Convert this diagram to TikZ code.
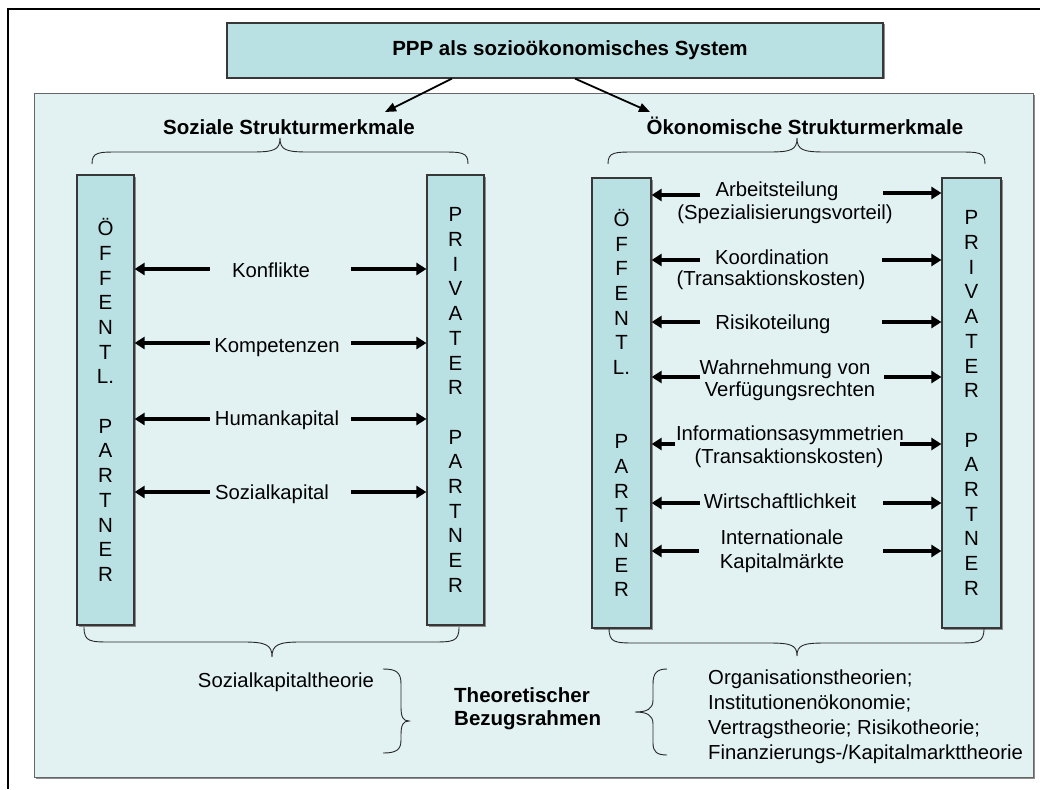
\documentclass[tikz,border=0pt]{standalone}
\usepackage{fontspec}
\setmainfont{Liberation Sans}
\usetikzlibrary{arrows.meta,shadows}
\definecolor{panelc}{RGB}{226,242,242}
\definecolor{barc}{RGB}{185,224,227}
\definecolor{edgec}{RGB}{55,55,55}
\begin{document}
\begin{tikzpicture}[x=1pt,y=-1pt,
  lbl/.style={font=\fontsize{20.3}{24}\selectfont, anchor=base, inner sep=0pt},
  hd/.style={font=\bfseries\fontsize{20.5}{24}\selectfont, anchor=base, inner sep=0pt},
  shd/.style={drop shadow={shadow xshift=1.5pt, shadow yshift=-1.5pt, fill=black!45, opacity=1}},
  bar/.style={draw=edgec, line width=1.2pt, fill=barc, align=center, inner sep=0pt,
    font=\fontsize{20.5}{24.7}\selectfont, shd},
  bigarr/.style={line width=4pt, -{Triangle[length=10pt,width=12pt]}},
  thinarr/.style={line width=1.8pt, -{Triangle[length=11pt,width=9pt]}},
  brace/.style={line width=0.9pt, black!85}
]
\useasboundingbox (0,0) rectangle (1040,789);
\fill[white] (0,0) rectangle (1040,789);
\draw[line width=2pt] (8,789) -- (8,9) -- (1040,9);

% panel
\node[draw=gray!80!black, line width=1pt, fill=panelc, minimum width=999pt, minimum height=683pt,
  inner sep=0pt, shd] (panel) at (533.5,435.5) {};

% title
\node[draw=edgec, line width=1.2pt, fill=barc, minimum width=656pt, minimum height=55pt, inner sep=0pt,
  font=\bfseries\fontsize{20.5}{24}\selectfont, shd] (title) at (555,50.5)
  {\hspace{30pt}PPP als sozioökonomisches System};

% headings
\node[hd] (soz) at (289,135) {Soziale Strukturmerkmale};
\node[hd] (oek) at (805,135) {Ökonomische Strukturmerkmale};
\coordinate (aS) at (385,112);
\coordinate (aO) at (650,112);
\draw[thinarr] ([xshift=-103pt]title.south) -- (aS);
\draw[thinarr] ([xshift=20pt]title.south) -- (aO);

% top braces
\draw[brace] (92,164) .. controls (92,152) and (98,152) .. (120,152) -- (252,152)
  .. controls (274,152) and (280,150) .. (280,138) .. controls (280,150) and (286,152) .. (308,152)
  -- (440,152) .. controls (462,152) and (468,152) .. (468,164);
\draw[brace] (608,164) .. controls (608,152) and (614,152) .. (636,152) -- (769,152)
  .. controls (791,152) and (797,150) .. (797,138) .. controls (797,150) and (803,152) .. (825,152)
  -- (957,152) .. controls (979,152) and (985,152) .. (985,164);

% bars
\node[bar, minimum width=57pt, minimum height=450pt] (oeL) at (105.5,400)
  {Ö\\F\\F\\E\\N\\T\\L.\\[24.7pt]P\\A\\R\\T\\N\\E\\R};
\node[bar, minimum width=57pt, minimum height=450pt] (prL) at (455.5,400)
  {P\\R\\I\\V\\A\\T\\E\\R\\[24.7pt]P\\A\\R\\T\\N\\E\\R};
\node[bar, minimum width=59pt, minimum height=450pt] (oeR) at (621.5,403)
  {Ö\\F\\F\\E\\N\\T\\L.\\[49.4pt]P\\A\\R\\T\\N\\E\\R};
\node[bar, minimum width=59pt, minimum height=450pt] (prR) at (971.5,403)
  {P\\R\\I\\V\\A\\T\\E\\R\\[24.7pt]P\\A\\R\\T\\N\\E\\R};

% left labels and arrows
\node[lbl] (konf) at (271,277) {Konflikte};
\node[lbl] (komp) at (277,352) {Kompetenzen};
\node[lbl] (hum) at (277,425) {Humankapital};
\node[lbl] (soka) at (272,499) {Sozialkapital};
\foreach \n/\y in {1/269,2/343,3/419,4/492}{
  \coordinate (la\n) at (210,\y);
  \coordinate (ra\n) at (351,\y);
  \draw[bigarr] (la\n) -- (la\n -| oeL.east);
  \draw[bigarr] (ra\n) -- (ra\n -| prL.west);
}

% right labels
\node[lbl] (arb1) at (777,196) {Arbeitsteilung};
\node[lbl] (arb2) at (785,219) {(Spezialisierungsvorteil)};
\node[lbl] (koo1) at (772,264) {Koordination};
\node[lbl] (koo2) at (771,285) {(Transaktionskosten)};
\node[lbl] (ris) at (773,329) {Risikoteilung};
\node[lbl] (wah1) at (785,374) {Wahrnehmung von};
\node[lbl] (wah2) at (790,396) {Verfügungsrechten};
\node[lbl] (inf1) at (790,440) {Informationsasymmetrien};
\node[lbl] (inf2) at (789,463) {(Transaktionskosten)};
\node[lbl] (wir) at (780,508) {Wirtschaftlichkeit};
\node[lbl] (int1) at (782,544) {Internationale};
\node[lbl] (int2) at (782,568) {Kapitalmärkte};
\foreach \n/\xl/\yl/\xr/\yr in {1/700/195/883/193, 2/700/260/882/260, 3/700/322/882/322,
  4/700/377/884/377, 5/675/444/900/444, 6/700/503/883/503, 7/699/551/883/551}{
  \coordinate (lb\n) at (\xl,\yl);
  \coordinate (rb\n) at (\xr,\yr);
  \draw[bigarr] (lb\n) -- (lb\n -| oeR.east);
  \draw[bigarr] (rb\n) -- (rb\n -| prR.west);
}

% bottom braces
\draw[brace] (84,627) .. controls (84,642) and (90,642) .. (112,642) -- (244,642)
  .. controls (266,642) and (272,645) .. (272,657) .. controls (272,645) and (278,642) .. (300,642)
  -- (431,642) .. controls (453,642) and (459,642) .. (459,627);
\draw[brace] (609,628) .. controls (609,643) and (615,643) .. (637,643) -- (769,643)
  .. controls (791,643) and (797,645) .. (797,656) .. controls (797,645) and (803,643) .. (825,643)
  -- (956,643) .. controls (978,643) and (984,643) .. (984,628);

% theory section
\node[lbl] (skt) at (286,687) {Sozialkapitaltheorie};
\draw[brace] (383,669) .. controls (396,669) and (401,672) .. (401,684) -- (401,707)
  .. controls (401,717) and (403,721) .. (409,721) .. controls (403,721) and (401,725) .. (401,735)
  -- (401,740) .. controls (401,750) and (396,753) .. (383,753);
\node[hd, anchor=base west] (tb1) at (454,702) {Theoretischer};
\node[hd, anchor=base west] (tb2) at (454,725) {Bezugsrahmen};
\draw[brace] (667,669) .. controls (657,669) and (653,673) .. (653,684) -- (653,700)
  .. controls (653,709) and (647,712) .. (635,712) .. controls (647,712) and (653,715) .. (653,724)
  -- (653,743) .. controls (653,752) and (657,755) .. (667,755);
\node[lbl, anchor=base west] (th1) at (708,684) {Organisationstheorien;};
\node[lbl, anchor=base west] (th2) at (708,709) {Institutionenökonomie;};
\node[lbl, anchor=base west] (th3) at (708,734) {Vertragstheorie; Risikotheorie;};
\node[lbl, anchor=base west] (th4) at (708,759) {Finanzierungs-/Kapitalmarkttheorie};
\end{tikzpicture}
\end{document}
